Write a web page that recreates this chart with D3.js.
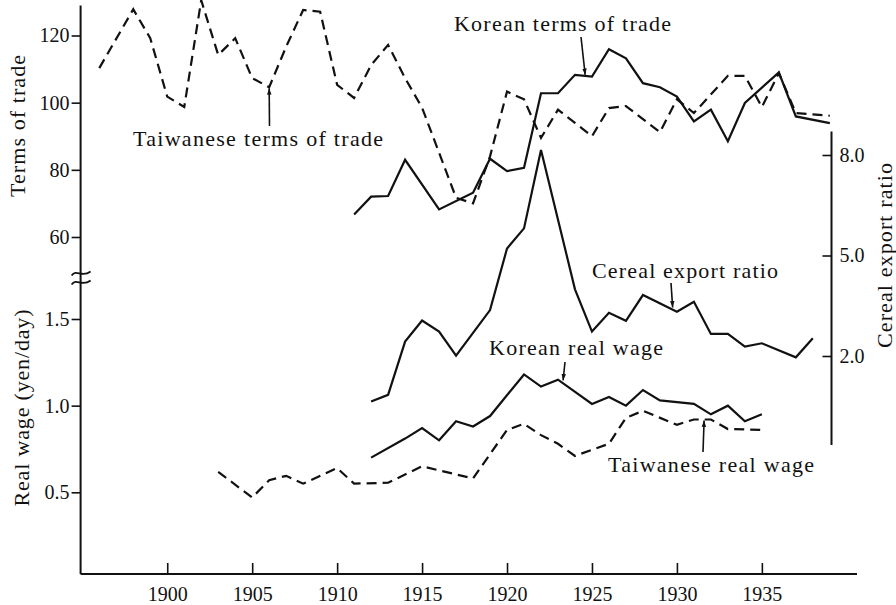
<!DOCTYPE html>
<html>
<head>
<meta charset="utf-8">
<script src="https://cdn.jsdelivr.net/npm/d3@7"></script>
<style>
  html, body { margin: 0; padding: 0; background: #fff; }
  svg { display: block; }
  text { font-family: "Liberation Serif", "DejaVu Serif", serif; fill: #111; }
</style>
</head>
<body>
<svg id="chart" width="896" height="605"></svg>
<script>
// ---------------- DATA ----------------
const taiwanTotYears  = [1896,1898,1899,1900,1901,1902,1903,1904,1905,1906,1907,1908,1909,1910,1911,1912,1913,1914,1915,1917,1918,1919,1920,1921,1922,1923,1924,1925,1926,1927,1929,1930,1931,1933,1934,1935,1936,1937,1939];
const taiwanTotValues = [110.3,127.8,119.2,101.8,98.7,130.5,114.2,119.2,107.3,104.6,116.7,127.6,127.1,105.3,101.4,111.2,117.2,107.3,98.5,71.7,70.0,84.0,103.3,101.0,89.5,97.9,94.0,90.0,98.4,99.0,91.2,101.0,96.9,108.0,108.0,98.7,108.8,96.9,96.1];

const koreaTotYears  = [1911,1912,1913,1914,1916,1918,1919,1920,1921,1922,1923,1924,1925,1926,1927,1928,1929,1930,1931,1932,1933,1934,1936,1937,1939];
const koreaTotValues = [66.7,72.0,72.2,83.0,68.2,73.2,83.3,79.6,80.6,102.8,102.8,108.3,107.8,115.9,113.2,105.8,104.6,101.8,94.4,97.9,88.5,99.9,109.0,95.9,93.9];

const cerealYears  = [1912,1913,1914,1915,1916,1917,1919,1920,1921,1922,1924,1925,1926,1927,1928,1930,1931,1932,1933,1934,1935,1937,1938];
const cerealValues = [0.64,0.84,2.43,3.06,2.73,2.01,3.37,5.21,5.81,8.15,3.99,2.73,3.29,3.05,3.82,3.32,3.62,2.66,2.66,2.28,2.38,1.96,2.53];

const koreaWageYears  = [1912,1914,1915,1916,1917,1918,1919,1921,1922,1923,1925,1926,1927,1928,1929,1931,1932,1933,1934,1935];
const koreaWageValues = [0.70,0.81,0.87,0.80,0.91,0.88,0.94,1.18,1.11,1.15,1.01,1.05,1.00,1.09,1.03,1.01,0.95,1.00,0.91,0.95];

const taiwanWageYears  = [1903,1905,1906,1907,1908,1910,1911,1913,1915,1918,1920,1921,1922,1923,1924,1926,1927,1928,1930,1931,1932,1933,1935];
const taiwanWageValues = [0.618,0.47,0.57,0.595,0.55,0.64,0.55,0.555,0.65,0.58,0.86,0.895,0.83,0.78,0.71,0.78,0.93,0.97,0.89,0.92,0.92,0.865,0.86];

const yearTicks   = [1900,1905,1910,1915,1920,1925,1930,1935];
const totTicks    = [60,80,100,120];
const wageTicks   = [0.5,1.0,1.5];
const cerealTicks = [2.0,5.0,8.0];

// ---------------- SCALES ----------------
const svg = d3.select("#chart");
const x = d3.scaleLinear().domain([1894.9, 1940.6]).range([80.6, 857]);
const yTot = d3.scaleLinear().domain([60, 120]).range([237, 35.5]);
const yWage = d3.scaleLinear().domain([0.5, 1.5]).range([492.3, 319]);
const yCer = d3.scaleLinear().domain([2, 8]).range([356, 155]);

const axisY = 574;          // baseline of x axis
const leftX = x.range()[0];
const rightAxisX = 831.5;

const ink = "#111";
const lw = 2.2;
const dash = "10,6";

// ---------------- AXES ----------------
// left axis line (continuous, with break)
svg.append("line").attr("x1", leftX).attr("x2", leftX)
  .attr("y1", yTot(128.9)).attr("y2", axisY)
  .attr("stroke", ink).attr("stroke-width", 2);
// bottom axis line
svg.append("line").attr("x1", leftX).attr("x2", x.range()[1])
  .attr("y1", axisY).attr("y2", axisY)
  .attr("stroke", ink).attr("stroke-width", 2);

function styleAxis(g) {
  g.select(".domain").remove();
  g.selectAll(".tick line").attr("stroke", ink).attr("stroke-width", 1.6);
  g.selectAll(".tick text").style("font-family", '"Liberation Serif", "DejaVu Serif", serif')
    .style("font-size", "20px").attr("fill", ink);
}

svg.append("g").attr("transform", `translate(${leftX},0)`)
  .call(d3.axisLeft(yTot).tickValues(totTicks).tickSize(9).tickPadding(2).tickFormat(d3.format("d")))
  .call(styleAxis);

svg.append("g").attr("transform", `translate(${leftX},0)`)
  .call(d3.axisLeft(yWage).tickValues(wageTicks).tickSize(9).tickPadding(2).tickFormat(d3.format(".1f")))
  .call(styleAxis);

svg.append("g").attr("transform", `translate(0,${axisY})`)
  .call(d3.axisBottom(x).tickValues(yearTicks).tickSizeInner(-11).tickSizeOuter(0).tickPadding(13).tickFormat(d3.format("d")))
  .call(styleAxis);

// right axis (cereal export ratio)
svg.append("line").attr("x1", rightAxisX).attr("x2", rightAxisX)
  .attr("y1", yCer(8.7)).attr("y2", yCer(-0.66))
  .attr("stroke", ink).attr("stroke-width", 2);
svg.append("g").attr("transform", `translate(${rightAxisX},0)`)
  .call(d3.axisRight(yCer).tickValues(cerealTicks).tickSizeInner(-9).tickSizeOuter(0).tickPadding(8).tickFormat(d3.format(".1f")))
  .call(styleAxis);

// axis break symbol
const breakY = (yTot(60) + yWage(1.5)) / 2;
[-4.5, 4.5].forEach(off => {
  svg.append("path")
    .attr("d", `M${leftX - 9},${breakY + off + 2} C${leftX - 4},${breakY + off - 5} ${leftX + 1},${breakY + off + 5} ${leftX + 10},${breakY + off - 2}`)
    .attr("fill", "none").attr("stroke", ink).attr("stroke-width", 1.8);
});

// axis titles
function vTitle(txt, bx, cy, len) {
  svg.append("text")
    .attr("transform", `translate(${bx},${cy}) rotate(-90)`)
    .attr("text-anchor", "middle")
    .attr("textLength", len).attr("lengthAdjust", "spacing")
    .style("font-size", "22px")
    .text(txt);
}
vTitle("Terms of trade", 25, 126, 142);
vTitle("Real wage (yen/day)", 29, 408, 197);
vTitle("Cereal export ratio", 892, 255.5, 185);

// ---------------- LINES ----------------
function series(years, values, yScale, dashed) {
  const pts = years.map((yr, i) => [yr, values[i]]);
  const line = d3.line().x(d => x(d[0])).y(d => yScale(d[1]));
  svg.append("path").datum(pts)
    .attr("d", line)
    .attr("fill", "none").attr("stroke", ink).attr("stroke-width", lw)
    .attr("stroke-linejoin", "miter").attr("stroke-linecap", "butt")
    .attr("stroke-dasharray", dashed ? dash : null);
}
series(taiwanTotYears, taiwanTotValues, yTot, true);
series(koreaTotYears, koreaTotValues, yTot, false);
series(cerealYears, cerealValues, yCer, false);
series(koreaWageYears, koreaWageValues, yWage, false);
series(taiwanWageYears, taiwanWageValues, yWage, true);

// ---------------- ANNOTATIONS ----------------
svg.append("defs").append("marker")
  .attr("id", "ah").attr("viewBox", "0 0 10 10").attr("refX", 10).attr("refY", 5)
  .attr("markerWidth", 4).attr("markerHeight", 4).attr("markerUnits", "strokeWidth")
  .attr("orient", "auto")
  .append("path").attr("d", "M0,1.5 L10,5 L0,8.5 Z").attr("fill", ink);

function label(txt, lx, ly, len) {
  svg.append("text").attr("x", lx).attr("y", ly)
    .attr("textLength", len).attr("lengthAdjust", "spacing")
    .style("font-size", "22px").text(txt);
}
function arrow(tailX, tailY, tipPx) {
  svg.append("line").attr("x1", tailX).attr("y1", tailY)
    .attr("x2", tipPx[0]).attr("y2", tipPx[1])
    .attr("stroke", ink).attr("stroke-width", 1.6)
    .attr("marker-end", "url(#ah)");
}

label("Taiwanese terms of trade", 133, 146, 250);
arrow(269.5, 126, [x(1906), yTot(104.6) + 1]);

label("Korean terms of trade", 454, 31, 217);
arrow(581, 37, [x(1924.6), yTot(108) - 1]);

label("Cereal export ratio", 592, 277.5, 186);
arrow(671, 283, [x(1929.75), yCer(3.42) - 1]);

label("Korean real wage", 489, 354.5, 174);
arrow(565, 362, [x(1923.3), yWage(1.14) - 1]);

label("Taiwanese real wage", 608, 471.5, 206);
arrow(703, 452, [x(1931.6), yWage(0.92) + 1]);
</script>
</body>
</html>
